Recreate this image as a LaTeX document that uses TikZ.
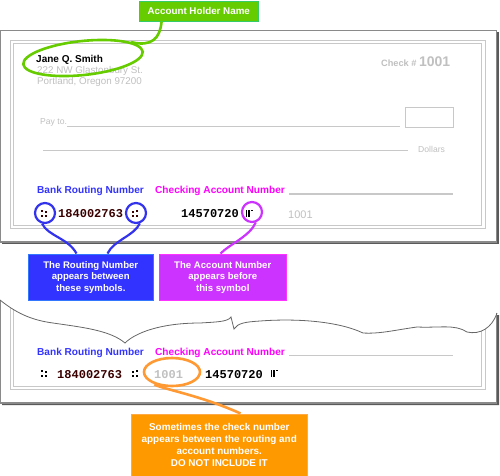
\documentclass[tikz,border=0pt]{standalone}
\usepackage{fontspec}
\setmainfont{Liberation Sans}
\newfontfamily\micrfont{Liberation Mono}
\usetikzlibrary{shapes.geometric,calc}
\definecolor{grfill}{HTML}{66CC00}
\definecolor{grborder}{HTML}{33CC66}
\definecolor{blfill}{HTML}{3333FF}
\definecolor{blborder}{HTML}{3377FF}
\definecolor{blpen}{HTML}{3333EE}
\definecolor{mgfill}{HTML}{CC33FF}
\definecolor{mgborder}{HTML}{FF33FF}
\definecolor{mgpen}{HTML}{CC33FF}
\definecolor{ogfill}{HTML}{FF9900}
\definecolor{ogborder}{HTML}{FFAA44}
\definecolor{ogpen}{HTML}{FF9933}
\definecolor{ltxt}{HTML}{C0C0C0}
\definecolor{lline}{HTML}{C8C8C8}
\definecolor{frame}{HTML}{8A8A8A}
\definecolor{shadow}{HTML}{5A5A5A}
\definecolor{tear}{HTML}{666666}
\definecolor{micrbrown}{HTML}{3A0000}
\definecolor{routeblue}{HTML}{3333FF}
\definecolor{acctmag}{HTML}{FF00FF}
\tikzset{
  txt/.style={anchor=base west, inner sep=0pt},
  graytxt/.style={txt, text=ltxt},
  labtxt/.style={txt, font=\fontsize{10.1}{11}\selectfont\bfseries},
  micr/.style={txt, font=\fontsize{12}{12}\selectfont\micrfont\bfseries},
  calloutbox/.style={draw, line width=1.5pt, anchor=north west, inner sep=0pt, align=center, text=white,
     font=\fontsize{9.6}{11.5}\selectfont\bfseries},
  bluering/.style={circle, draw=blpen, line width=2.2pt, minimum size=20pt, inner sep=0pt},
  bluetail/.style={draw=blpen, line width=2.2pt},
  transit/.pic={\fill (-2.8,-3.5) rectangle (-1.2,-1.5); \fill (-2.8,1.5) rectangle (-1.2,3.5);
                \fill (0.8,-2) rectangle (2.6,0); \fill (0.8,1.5) rectangle (2.6,3.5);},
  transitb/.pic={\fill (-2.8,-2) rectangle (-1,0); \fill (-2.8,1.5) rectangle (-1,3.5);
                \fill (1,-3.5) rectangle (2.6,-1.5); \fill (1,1.5) rectangle (2.6,3.5);},
  onus/.pic={\fill (-3.5,-3.5) rectangle (-2.2,3.5); \fill (-0.8,-3.5) rectangle (0.5,3.5);
             \fill (1.8,-3.5) rectangle (3.6,-1.8);}
}
\begin{document}
\begin{tikzpicture}[x=1pt,y=-1pt]
\useasboundingbox (0,0) rectangle (500,475);

% ===== top check =====
\fill[shadow] (2,32) rectangle (499,244);
\filldraw[fill=white, draw=frame, line width=1.2pt] (0.6,30.6) rectangle (496.8,242);
\draw[lline, line width=0.8pt] (10,40) rectangle (485,228);
\draw[lline, line width=0.8pt] (13,43) rectangle (481.5,225.5);

\node[txt, font=\fontsize{10}{12}\selectfont\bfseries] (name) at (36,62) {Jane Q. Smith};
\node[graytxt, font=\fontsize{9.8}{10}\selectfont] (addr1) at (37,73) {222 NW Glastonbury St.};
\node[graytxt, font=\fontsize{9.8}{10}\selectfont] (addr2) at (37,84) {Portland, Oregon 97200};
\node[graytxt, font=\fontsize{9.2}{10}\selectfont\bfseries] (checkno) at (381,66) {Check \# {\fontsize{14}{14}\selectfont 1001}};

\node[graytxt, font=\fontsize{8.6}{10}\selectfont] (payto) at (40,124) {Pay to.};
\draw[lline, line width=0.9pt] (67,126) -- (400,126);
\draw[lline, line width=0.9pt] (405,107) rectangle (453,127);
\draw[lline, line width=0.9pt] (43,150) -- (408,150);
\node[graytxt, font=\fontsize{8.6}{10}\selectfont] (dollars) at (418,152) {Dollars};

\node[labtxt, text=routeblue] (brn1) at (37,193) {Bank Routing Number};
\node[labtxt, text=acctmag] (can1) at (155,193) {Checking Account Number};
\draw[lline, line width=1.6pt] (289,194) -- (453,194);

\pic[micrbrown] at (44,213) {transit};
\node[micr, text=micrbrown] (rout1) at (58,217) {184002763};
\pic[micrbrown] at (135,213) {transitb};
\node[micr] (acct1) at (181,217) {14570720};
\pic at (249,213) {onus};
\node[graytxt, font=\fontsize{11}{12}\selectfont] (num1) at (288,218) {1001};

% ===== bottom check =====
\coordinate (tearstart) at (0,300);
\coordinate (tearend) at (497,313);
\fill[shadow] (2,405) -- (499,405) -- (499,315) -- (497,315) -- (497,403) -- (2,403) -- cycle;
\begin{scope}
  \clip (0,300) .. controls (15,312) and (30,320) .. (53,323)
        .. controls (80,327) and (110,330) .. (125,343)
        .. controls (135,333) and (160,323) .. (200,323)
        .. controls (215,322) and (228,322) .. (231,317)
        -- (234,329) .. controls (238,323) and (245,322) .. (260,321)
        .. controls (300,318) and (340,322) .. (363,333)
        .. controls (380,334) and (395,330) .. (417,327)
        .. controls (440,328) and (455,324) .. (467,332)
        .. controls (480,335) and (492,328) .. (497,313)
        -- (500,475) -- (0,475) -- cycle;
  \draw[lline, line width=0.8pt] (10,290) rectangle (485,389);
  \draw[lline, line width=0.8pt] (13,290) rectangle (481.5,386.5);
\end{scope}
\draw[draw=frame, line width=1.2pt] (0.6,300) -- (0.6,403) -- (496.8,403) -- (496.8,313);
\draw[draw=tear, line width=0.8pt] (tearstart) .. controls (15,312) and (30,320) .. (53,323)
        .. controls (80,327) and (110,330) .. (125,343)
        .. controls (135,333) and (160,323) .. (200,323)
        .. controls (215,322) and (228,322) .. (231,317)
        -- (234,329) .. controls (238,323) and (245,322) .. (260,321)
        .. controls (300,318) and (340,322) .. (363,333)
        .. controls (380,334) and (395,330) .. (417,327)
        .. controls (440,328) and (455,324) .. (467,332)
        .. controls (480,335) and (492,328) .. (tearend);

\node[labtxt, text=routeblue] (brn2) at (37,355) {Bank Routing Number};
\node[labtxt, text=acctmag] (can2) at (155,355) {Checking Account Number};
\draw[lline, line width=1.6pt] (289,355.5) -- (453,355.5);

\pic at (44,373) {transit};
\node[micr, text=micrbrown] (rout2) at (57,378) {184002763};
\pic at (135,373) {transitb};
\node[micr, text=ltxt] (num2) at (154,378) {1001};
\node[micr] (acct2) at (205,378) {14570720};
\pic at (274,373) {onus};

% ===== callouts =====
\node[calloutbox, fill=grfill, draw=grborder, minimum width=119pt, minimum height=20pt,
      font=\fontsize{9.8}{11}\selectfont\bfseries] (holderbox) at (138.5,0.5) {Account Holder Name};
\node[ellipse, draw=grfill, line width=2.6pt, minimum width=120pt, minimum height=34pt, rotate=6,
      inner sep=0pt] (holderoval) at (83,58) {};
\draw[draw=grfill, line width=2.6pt, line cap=round]
  ($(holderbox.south west)+(23,0)$) .. controls (160,38) and (152,47) .. (holderoval.12);

\node[bluering] (transitA) at (45,213) {};
\node[bluering] (transitB) at (136,213) {};
\node[circle, draw=mgpen, line width=2.2pt, minimum size=20pt, inner sep=0pt] (onusring) at (252,212) {};

\node[calloutbox, fill=blfill, draw=blborder, minimum width=125pt, minimum height=46pt] (routebox) at (27.5,253.5)
  {The Routing Number\\appears between\\these symbols.};
\node[calloutbox, fill=mgfill, draw=mgborder, minimum width=127pt, minimum height=46pt] (acctbox) at (158.5,253.5)
  {The Account Number\\appears before\\this symbol};

\draw[bluetail] (transitA.255) .. controls (48,236) and (68,238) .. ($(routebox.north west)+(49,0)$);
\draw[bluetail] (transitB.290) .. controls (134,236) and (114,240) .. ($(routebox.north west)+(80,0)$);
\draw[draw=mgpen, line width=2.2pt] (onusring.290) .. controls (250,236) and (230,244) .. ($(acctbox.north west)+(62,0)$);

\node[ellipse, draw=ogpen, line width=2.6pt, minimum width=56pt, minimum height=28pt, inner sep=0pt] (numoval) at (172,372) {};
\node[calloutbox, fill=ogfill, draw=ogborder, minimum width=176pt, minimum height=62pt,
      font=\fontsize{9.9}{12}\selectfont\bfseries] (warnbox) at (130.5,413.5)
  {Sometimes the check number\\appears between the routing and\\account numbers.\\DO NOT INCLUDE IT};
\draw[draw=ogpen, line width=2.6pt] (numoval.215) .. controls (158,388) and (200,395) .. ($(warnbox.north west)+(110,0)$);
\end{tikzpicture}
\end{document}
